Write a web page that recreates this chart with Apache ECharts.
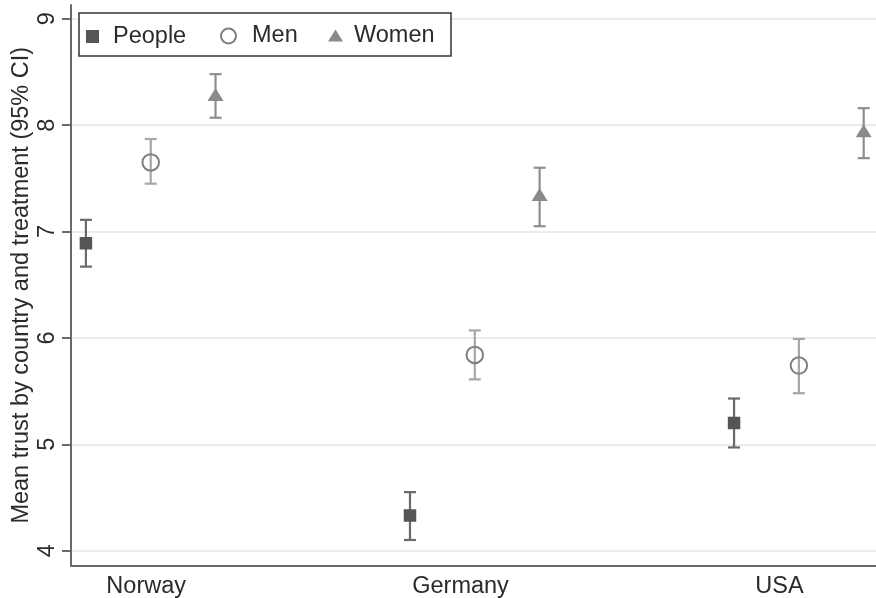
<!DOCTYPE html>
<html>
<head>
<meta charset="utf-8">
<script src="https://cdn.jsdelivr.net/npm/echarts@6/dist/echarts.min.js"></script>
<style>html,body{margin:0;padding:0;background:#fff}#c{width:876px;height:598px}</style>
</head>
<body>
<div id="c"></div>
<script>
// ---- data ----
const countries = ['Norway', 'Germany', 'USA'];
const countryLabelPos = [1.93, 6.78, 11.7];
const yTicks = [4, 5, 6, 7, 8, 9];

const peopleX = [1, 6, 11];
const peopleMean = [6.89, 4.33, 5.20];
const peopleLo = [6.67, 4.10, 4.97];
const peopleHi = [7.11, 4.55, 5.43];

const menX = [2, 7, 12];
const menMean = [7.65, 5.84, 5.74];
const menLo = [7.45, 5.61, 5.48];
const menHi = [7.87, 6.07, 5.99];

const womenX = [3, 8, 13];
const womenMean = [8.27, 7.33, 7.93];
const womenLo = [8.07, 7.05, 7.69];
const womenHi = [8.48, 7.60, 8.16];

// ---- helpers ----
const FONT = '"Liberation Sans", Arial, sans-serif';
function pts(xs, ys) { return xs.map((x, i) => [x, ys[i]]); }
function ci(xs, lo, hi) { return xs.map((x, i) => [x, lo[i], hi[i]]); }
function errSeries(name, data, color) {
  return {
    type: 'custom', name: name, data: data, z: 2, silent: true,
    encode: { x: 0, y: [1, 2] },
    renderItem: function (params, api) {
      const x = api.value(0);
      const a = api.coord([x, api.value(1)]);
      const b = api.coord([x, api.value(2)]);
      const hw = 6;
      const st = { stroke: color, lineWidth: 2.2 };
      return {
        type: 'group', children: [
          { type: 'line', shape: { x1: a[0], y1: a[1], x2: b[0], y2: b[1] }, style: st },
          { type: 'line', shape: { x1: a[0] - hw, y1: a[1], x2: a[0] + hw, y2: a[1] }, style: st },
          { type: 'line', shape: { x1: b[0] - hw, y1: b[1], x2: b[0] + hw, y2: b[1] }, style: st }
        ]
      };
    }
  };
}

const chart = echarts.init(document.getElementById('c'), null, { renderer: 'canvas' });
const legendText = { fontFamily: FONT, fontSize: 23.5, color: '#2b2b2b' };

chart.setOption({
  backgroundColor: '#fff',
  animation: false,
  textStyle: { fontFamily: FONT },
  grid: { left: 71, right: 0, top: 5, bottom: 32.5, containLabel: false, outerBoundsMode: 'none' },
  graphic: [{
    type: 'rect', z: 50, silent: true,
    shape: { x: 79, y: 13, width: 372, height: 43 },
    style: { fill: '#fff', stroke: '#333', lineWidth: 1.5 }
  }],
  legend: [
    { left: 86, top: 24.5, padding: 0, z: 60, selectedMode: false, itemWidth: 31, itemHeight: 13,
      data: [{ name: 'People', icon: 'path://M0,0h10v10h-10z', itemStyle: { color: '#555555' } }],
      textStyle: legendText },
    { left: 220, top: 24, padding: 0, z: 60, selectedMode: false, itemWidth: 37, itemHeight: 15,
      data: [{ name: 'Men', icon: 'circle', itemStyle: { color: 'transparent', borderColor: '#7f7f7f', borderWidth: 2 } }],
      textStyle: legendText },
    { left: 328, top: 23.5, padding: 0, z: 60, selectedMode: false, itemWidth: 27, itemHeight: 12,
      data: [{ name: 'Women', icon: 'path://M7.5,0L15,12L0,12Z', itemStyle: { color: '#8a8a8a' } }],
      textStyle: legendText }
  ],
  xAxis: {
    type: 'value', min: 0.77, max: 13.19,
    axisLine: { show: true, onZero: false, lineStyle: { color: '#6a6a6a', width: 2 } },
    axisTick: { show: false },
    splitLine: { show: false },
    axisLabel: {
      customValues: countryLabelPos,
      margin: 9, fontSize: 23.5, color: '#2b2b2b', fontFamily: FONT,
      formatter: function (v) {
        let best = 0;
        countryLabelPos.forEach((p, i) => { if (Math.abs(p - v) < Math.abs(countryLabelPos[best] - v)) best = i; });
        return countries[best];
      }
    }
  },
  yAxis: {
    type: 'value', min: 3.86, max: 9.13,
    name: 'Mean trust by country and treatment (95% CI)',
    nameLocation: 'middle', nameGap: 37, nameMoveOverlap: false,
    nameTextStyle: { fontSize: 23.5, color: '#2b2b2b', fontFamily: FONT },
    axisLine: { show: true, onZero: false, lineStyle: { color: '#6a6a6a', width: 2 } },
    axisTick: { show: true, customValues: yTicks, length: 9, lineStyle: { color: '#6a6a6a', width: 2 } },
    splitLine: { show: true, lineStyle: { color: '#ebebeb', width: 2 } },
    axisLabel: {
      customValues: yTicks, rotate: 90, margin: 11,
      fontSize: 23.5, color: '#2b2b2b', fontFamily: FONT
    }
  },
  series: [
    errSeries('People CI', ci(peopleX, peopleLo, peopleHi), '#6a6a6a'),
    errSeries('Men CI', ci(menX, menLo, menHi), '#a6a6a6'),
    errSeries('Women CI', ci(womenX, womenLo, womenHi), '#8e8e8e'),
    { type: 'scatter', name: 'People', data: pts(peopleX, peopleMean), z: 3,
      symbol: 'rect', symbolSize: 12.5, itemStyle: { color: '#555555', opacity: 1 } },
    { type: 'scatter', name: 'Men', data: pts(menX, menMean), z: 3,
      symbol: 'circle', symbolSize: 16.5,
      itemStyle: { color: 'transparent', borderColor: '#7f7f7f', borderWidth: 2, opacity: 1 } },
    { type: 'scatter', name: 'Women', data: pts(womenX, womenMean), z: 3,
      symbol: 'triangle', symbolSize: [16, 13], symbolOffset: [0, -2],
      itemStyle: { color: '#8a8a8a', opacity: 1 } }
  ]
});
</script>
</body>
</html>
